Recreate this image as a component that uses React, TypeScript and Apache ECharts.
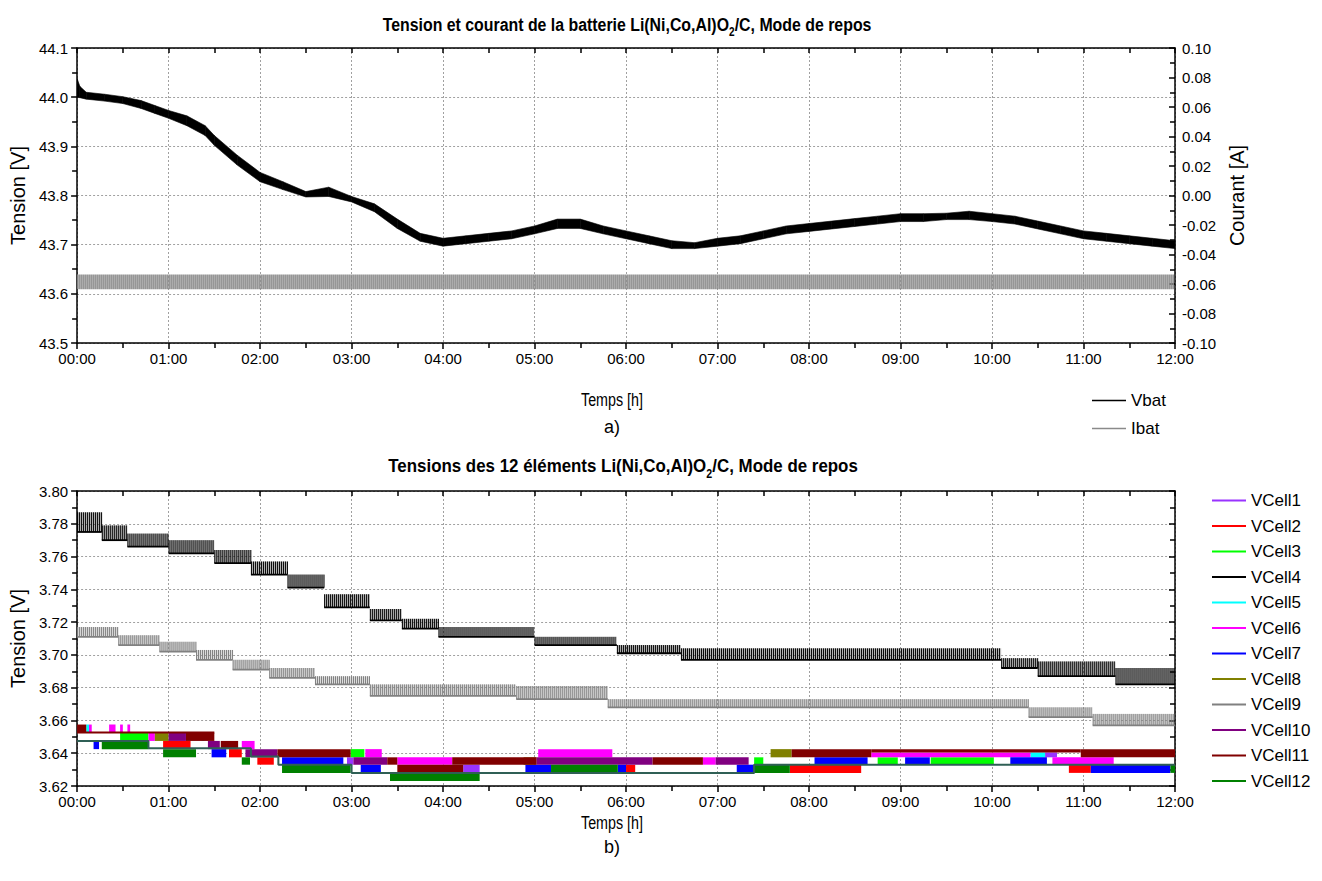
import React, { useEffect, useRef } from 'react';
import * as echarts from 'echarts';

const FONT = '"Liberation Sans", Arial, Helvetica, sans-serif';

// ---------- tick labels ----------
const hourLabels = ['00:00', '01:00', '02:00', '03:00', '04:00', '05:00', '06:00', '07:00', '08:00', '09:00', '10:00', '11:00', '12:00'];

// ---------- (a) battery voltage envelope, Vbat ----------
const vbatTime = [0, 0.03, 0.1, 0.3, 0.5, 0.7, 0.85, 1.0, 1.2, 1.4, 1.5, 1.75, 2.0, 2.25, 2.5, 2.75, 3.0, 3.25, 3.5, 3.75, 4.0, 4.25, 4.5, 4.75, 5.0, 5.25, 5.5, 5.75, 6.0, 6.25, 6.5, 6.75, 7.0, 7.25, 7.5, 7.75, 8.0, 8.25, 8.5, 8.75, 9.0, 9.25, 9.5, 9.75, 10.0, 10.25, 10.5, 10.75, 11.0, 11.25, 11.5, 11.75, 12.0];
const vbatLow = [44.0, 43.999, 43.996, 43.992, 43.987, 43.977, 43.967, 43.957, 43.942, 43.922, 43.902, 43.862, 43.828, 43.812, 43.797, 43.798, 43.787, 43.767, 43.733, 43.707, 43.697, 43.702, 43.707, 43.712, 43.722, 43.733, 43.733, 43.722, 43.712, 43.702, 43.692, 43.692, 43.697, 43.702, 43.712, 43.722, 43.727, 43.732, 43.737, 43.742, 43.747, 43.747, 43.751, 43.751, 43.747, 43.742, 43.732, 43.722, 43.712, 43.707, 43.702, 43.697, 43.692];
const vbatHigh = [44.038, 44.022, 44.01, 44.006, 44.001, 43.993, 43.983, 43.973, 43.962, 43.942, 43.922, 43.882, 43.847, 43.828, 43.808, 43.817, 43.798, 43.783, 43.752, 43.723, 43.713, 43.718, 43.723, 43.728, 43.738, 43.752, 43.752, 43.738, 43.728, 43.718, 43.708, 43.704, 43.713, 43.718, 43.728, 43.738, 43.743, 43.748, 43.753, 43.758, 43.763, 43.763, 43.764, 43.768, 43.763, 43.758, 43.748, 43.738, 43.728, 43.723, 43.718, 43.713, 43.708];

// ---------- (a) battery current envelope, Ibat ----------
const ibatTime = [0, 12];
const ibatLow = [-0.0635, -0.0635];
const ibatHigh = [-0.0535, -0.0535];

// ---------- (b) cell voltages: segments [tStart, tEnd, low, high] ----------
type Seg = [number, number, number, number];
const vcell1: Seg[] = [[2.95, 3.02, 3.633, 3.6375], [4.22, 4.4, 3.628, 3.633], [10.58, 10.71, 3.6375, 3.6405]];
const vcell2: Seg[] = [[0.94, 1.24, 3.6425, 3.6475], [1.66, 1.8, 3.6375, 3.6425], [1.97, 2.15, 3.633, 3.6375], [6.0, 6.1, 3.628, 3.633], [7.79, 8.57, 3.628, 3.633], [10.84, 11.08, 3.628, 3.633]];
const vcell3: Seg[] = [[0.47, 0.78, 3.6475, 3.6525], [2.99, 3.14, 3.6375, 3.6425], [7.4, 7.5, 3.633, 3.6375], [8.75, 8.97, 3.633, 3.6375], [9.33, 10.02, 3.633, 3.6375]];
const vcell4: Seg[] = [[0, 0.27, 3.775, 3.787], [0.27, 0.55, 3.77, 3.779], [0.55, 1.0, 3.766, 3.774], [1.0, 1.5, 3.762, 3.77], [1.5, 1.9, 3.756, 3.764], [1.9, 2.3, 3.749, 3.757], [2.3, 2.7, 3.741, 3.749], [2.7, 3.2, 3.729, 3.737], [3.2, 3.55, 3.721, 3.728], [3.55, 3.95, 3.716, 3.722], [3.95, 5.0, 3.711, 3.717], [5.0, 5.9, 3.706, 3.711], [5.9, 6.6, 3.701, 3.706], [6.6, 10.1, 3.697, 3.704], [10.1, 10.5, 3.692, 3.698], [10.5, 11.35, 3.687, 3.696], [11.35, 12, 3.682, 3.692]];
const vcell5: Seg[] = [[0.1, 0.13, 3.6525, 3.6575], [1.36, 1.39, 3.6475, 3.6525], [10.42, 10.58, 3.6375, 3.6405]];
const vcell6: Seg[] = [[0.13, 0.16, 3.6525, 3.6575], [0.35, 0.42, 3.6525, 3.6575], [0.47, 0.5, 3.6525, 3.6575], [0.55, 0.58, 3.6525, 3.6575], [0.78, 0.85, 3.6475, 3.6525], [1.8, 1.94, 3.6425, 3.6475], [3.15, 3.33, 3.6375, 3.6425], [3.5, 4.1, 3.633, 3.6375], [5.04, 5.85, 3.6375, 3.6425], [6.84, 6.98, 3.633, 3.6375], [8.68, 10.42, 3.6375, 3.6405], [10.66, 11.33, 3.633, 3.6375]];
const vcell7: Seg[] = [[0.18, 0.24, 3.6425, 3.6475], [1.47, 1.63, 3.6375, 3.6425], [2.24, 2.91, 3.633, 3.6375], [3.1, 3.32, 3.628, 3.633], [4.9, 5.18, 3.628, 3.633], [5.91, 6.0, 3.628, 3.633], [7.21, 7.39, 3.628, 3.633], [8.06, 8.64, 3.633, 3.6375], [9.05, 9.32, 3.633, 3.6375], [10.2, 10.6, 3.633, 3.6375], [11.08, 11.95, 3.628, 3.633]];
const vcell8: Seg[] = [[0.85, 1.0, 3.6475, 3.6525], [4.88, 5.02, 3.633, 3.6375], [7.58, 7.81, 3.6375, 3.6425]];
const vcell9: Seg[] = [[0, 0.45, 3.711, 3.717], [0.45, 0.9, 3.706, 3.712], [0.9, 1.3, 3.702, 3.708], [1.3, 1.7, 3.697, 3.703], [1.7, 2.1, 3.691, 3.697], [2.1, 2.6, 3.686, 3.692], [2.6, 3.2, 3.682, 3.687], [3.2, 4.8, 3.675, 3.682], [4.8, 5.8, 3.673, 3.681], [5.8, 10.4, 3.668, 3.673], [10.4, 11.1, 3.662, 3.668], [11.1, 12, 3.657, 3.664]];
const vcell10: Seg[] = [[1.0, 1.19, 3.6475, 3.6525], [1.43, 1.56, 3.6425, 3.6475], [1.84, 2.19, 3.6375, 3.6425], [3.02, 3.39, 3.633, 3.6375], [5.02, 6.29, 3.633, 3.6375], [6.98, 7.34, 3.633, 3.6375]];
const vcell11: Seg[] = [[0, 0.1, 3.6525, 3.6575], [0, 1.5, 3.652, 3.6532], [1.19, 1.5, 3.6475, 3.6525], [1.57, 1.76, 3.6425, 3.6475], [2.19, 2.99, 3.6375, 3.6425], [3.39, 3.5, 3.633, 3.6375], [4.1, 5.02, 3.633, 3.6375], [3.5, 4.22, 3.628, 3.633], [6.29, 6.84, 3.633, 3.6375], [7.81, 8.68, 3.6375, 3.6425], [8.68, 10.97, 3.6405, 3.6425], [10.97, 12, 3.6375, 3.6425]];
const vcell12: Seg[] = [[0.27, 0.78, 3.6425, 3.6475], [0.94, 1.3, 3.6375, 3.6425], [1.8, 1.89, 3.633, 3.6375], [2.24, 2.99, 3.628, 3.633], [3.42, 4.4, 3.623, 3.628], [5.18, 5.91, 3.628, 3.633], [7.39, 7.79, 3.628, 3.633], [11.95, 12, 3.628, 3.633]];
// baseline trace seen under the cell blocks: [time, voltage]
const cellBaseline: [number, number][] = [[0, 3.6475], [0.78, 3.643], [1.9, 3.638], [2.2, 3.633], [3.0, 3.628], [7.4, 3.633], [12, 3.633]];

const cellNames = ['VCell1', 'VCell2', 'VCell3', 'VCell4', 'VCell5', 'VCell6', 'VCell7', 'VCell8', 'VCell9', 'VCell10', 'VCell11', 'VCell12'];
const cellColors = ['#9933ff', '#ff0000', '#00ff00', '#000000', '#00ffff', '#ff00ff', '#0000ff', '#808000', '#808080', '#800080', '#800000', '#008000'];
const cellData = [vcell1, vcell2, vcell3, vcell4, vcell5, vcell6, vcell7, vcell8, vcell9, vcell10, vcell11, vcell12];

const title1A = 'Tension et courant de la batterie Li(Ni,Co,Al)O';
const title2A = 'Tensions des 12 éléments Li(Ni,Co,Al)O';
const titleSub = '2';
const titleB = '/C, Mode de repos';

let measureCtx: CanvasRenderingContext2D | null = null;
function textWidth(text: string, font: string) {
  if (!measureCtx) measureCtx = document.createElement('canvas').getContext('2d');
  if (!measureCtx) return text.length * 8;
  measureCtx.font = font;
  return measureCtx.measureText(text).width;
}

// filled envelope band (solid) or hatched band (hatch > 0: spacing of vertical strokes in px)
function bandSeries(name: string, xIdx: number, yIdx: number, T: number[], LO: number[], HI: number[], color: string, hatch: number, strokeW: number) {
  return {
    type: 'custom',
    name,
    xAxisIndex: xIdx,
    yAxisIndex: yIdx,
    itemStyle: { color },
    clip: true,
    data: T.map((t, i) => [t, LO[i], HI[i]]),
    encode: { x: 0, y: [1, 2] },
    renderItem: (params: any, api: any) => {
      const i = params.dataIndex;
      if (i >= T.length - 1) return null;
      const h0 = api.coord([T[i], HI[i]]);
      const h1 = api.coord([T[i + 1], HI[i + 1]]);
      const l1 = api.coord([T[i + 1], LO[i + 1]]);
      const l0 = api.coord([T[i], LO[i]]);
      if (!hatch) {
        return { type: 'polygon', shape: { points: [h0, h1, l1, l0] }, style: { fill: color, stroke: color, lineWidth: 0.6 } };
      }
      const children: any[] = [];
      const span = h1[0] - h0[0];
      for (let x = h0[0]; x <= h1[0]; x += hatch) {
        const f = span > 0 ? (x - h0[0]) / span : 0;
        const yt = h0[1] + (h1[1] - h0[1]) * f;
        const yb = l0[1] + (l1[1] - l0[1]) * f;
        children.push({ type: 'line', shape: { x1: x, y1: yt, x2: x, y2: yb }, style: { stroke: color, lineWidth: strokeW } });
      }
      return { type: 'group', children };
    },
  };
}

function segSeries(name: string, segs: Seg[], color: string, comb: boolean) {
  return {
    type: 'custom',
    name,
    xAxisIndex: 2,
    yAxisIndex: 2,
    itemStyle: { color },
    clip: true,
    data: segs,
    encode: { x: [0, 1], y: [2, 3] },
    renderItem: (params: any, api: any) => {
      const a = api.coord([api.value(0), api.value(3)]);
      const b = api.coord([api.value(1), api.value(2)]);
      const w = Math.max(b[0] - a[0], 1);
      const h = Math.max(b[1] - a[1], 1);
      if (!comb) {
        return { type: 'rect', shape: { x: a[0], y: a[1], width: w, height: h }, style: { fill: color } };
      }
      const children: any[] = [
        { type: 'rect', shape: { x: a[0], y: a[1], width: w, height: h }, style: { fill: color, opacity: 0.25 } },
        { type: 'line', shape: { x1: a[0], y1: b[1], x2: b[0], y2: b[1] }, style: { stroke: color, lineWidth: 1.8 } },
      ];
      for (let x = a[0] + 0.5; x <= b[0]; x += 2) {
        children.push({ type: 'line', shape: { x1: x, y1: a[1], x2: x, y2: b[1] }, style: { stroke: color, lineWidth: 1 } });
      }
      return { type: 'group', children };
    },
  };
}

const axisLineStyle = { color: '#000', width: 1.5 };
const gridLineStyle = { color: '#a0a0a0', width: 1, type: [2, 2] as any };
const tickLabel = { color: '#000', fontSize: 15, fontFamily: FONT };
const nameStyle = { fontSize: 20, color: '#000', fontFamily: FONT };

function timeAxis(gridIndex: number, top: boolean) {
  return {
    type: 'value',
    gridIndex,
    position: top ? 'top' : 'bottom',
    min: 0,
    max: 12,
    interval: 1,
    axisLine: { show: true, onZero: false, lineStyle: axisLineStyle },
    axisTick: { show: true, inside: top, length: top ? 5 : 6, lineStyle: axisLineStyle },
    minorTick: { show: true, splitNumber: 2, length: 5, lineStyle: axisLineStyle },
    axisLabel: top
      ? { show: false }
      : { ...tickLabel, margin: 8, formatter: (v: number) => hourLabels[Math.round(v)] },
    splitLine: { show: !top, lineStyle: gridLineStyle },
  };
}

function fmt(v: number, d: number) {
  return (Math.abs(v) < 1e-9 ? 0 : v).toFixed(d);
}

function titleGraphic(x: number, y: number, partA: string, targetWidth: number) {
  const big = 19;
  const small = 12;
  const natural =
    textWidth(partA, `bold ${big}px ${FONT}`) +
    textWidth(titleSub, `bold ${small}px ${FONT}`) +
    textWidth(titleB, `bold ${big}px ${FONT}`);
  return {
    type: 'text',
    x,
    y,
    scaleX: targetWidth / natural,
    style: {
      text: `{a|${partA}}{s|${titleSub}}{a|${titleB}}`,
      align: 'center',
      verticalAlign: 'middle',
      rich: {
        a: { fontSize: big, fontWeight: 'bold', fontFamily: FONT, fill: '#000', lineHeight: 28, verticalAlign: 'middle' },
        s: { fontSize: small, fontWeight: 'bold', fontFamily: FONT, fill: '#000', lineHeight: 28, verticalAlign: 'bottom' },
      },
    },
  };
}

function plainGraphic(x: number, y: number, text: string, size: number, targetWidth?: number) {
  const natural = textWidth(text, `${size}px ${FONT}`);
  return {
    type: 'text',
    x,
    y,
    scaleX: targetWidth ? targetWidth / natural : 1,
    style: { text, fontSize: size, fontFamily: FONT, fill: '#000', align: 'center', verticalAlign: 'middle' },
  };
}

function buildOption(): any {
  return {
    animation: false,
    backgroundColor: '#ffffff',
    textStyle: { fontFamily: FONT },
    grid: [
      { left: 72, top: 48, width: 1103, height: 295, containLabel: false },
      { left: 72, top: 491, width: 1103, height: 295, containLabel: false },
    ],
    xAxis: [timeAxis(0, false), timeAxis(0, true), timeAxis(1, false), timeAxis(1, true)],
    yAxis: [
      {
        type: 'value', gridIndex: 0, position: 'left', min: 43.5, max: 44.1, interval: 0.1,
        axisLine: { show: true, onZero: false, lineStyle: axisLineStyle },
        axisTick: { show: true, length: 6, lineStyle: axisLineStyle },
        minorTick: { show: true, splitNumber: 2, length: 5, lineStyle: axisLineStyle },
        axisLabel: { ...tickLabel, margin: 9, formatter: (v: number) => fmt(v, 1) },
        splitLine: { show: true, lineStyle: gridLineStyle },
        name: 'Tension [V]', nameLocation: 'middle', nameGap: 44, nameTextStyle: nameStyle,
      },
      {
        type: 'value', gridIndex: 0, position: 'right', min: -0.1, max: 0.1, interval: 0.02,
        axisLine: { show: true, onZero: false, lineStyle: axisLineStyle },
        axisTick: { show: true, inside: true, length: 6, lineStyle: axisLineStyle },
        minorTick: { show: true, splitNumber: 2, length: 5, lineStyle: axisLineStyle },
        axisLabel: { ...tickLabel, margin: 7, formatter: (v: number) => fmt(v, 2) },
        splitLine: { show: false },
        name: 'Courant [A]', nameLocation: 'middle', nameGap: 40, nameRotate: 90, nameTextStyle: nameStyle,
      },
      {
        type: 'value', gridIndex: 1, position: 'left', min: 3.62, max: 3.8, interval: 0.02,
        axisLine: { show: true, onZero: false, lineStyle: axisLineStyle },
        axisTick: { show: true, length: 6, lineStyle: axisLineStyle },
        minorTick: { show: true, splitNumber: 2, length: 5, lineStyle: axisLineStyle },
        axisLabel: { ...tickLabel, margin: 9, formatter: (v: number) => fmt(v, 2) },
        splitLine: { show: true, lineStyle: gridLineStyle },
        name: 'Tension [V]', nameLocation: 'middle', nameGap: 44, nameTextStyle: nameStyle,
      },
      {
        type: 'value', gridIndex: 1, position: 'right', min: 3.62, max: 3.8, interval: 0.02,
        axisLine: { show: true, onZero: false, lineStyle: axisLineStyle },
        axisTick: { show: true, inside: true, length: 6, lineStyle: axisLineStyle },
        minorTick: { show: true, splitNumber: 2, length: 5, lineStyle: axisLineStyle },
        axisLabel: { show: false },
        splitLine: { show: false },
      },
    ],
    legend: [
      {
        data: ['Vbat', 'Ibat'], orient: 'vertical', left: 1087, top: 387,
        icon: 'rect', itemWidth: 34, itemHeight: 1.5, itemGap: 11,
        textStyle: { fontSize: 17, color: '#000', fontFamily: FONT },
        selectedMode: false,
      },
      {
        data: cellNames, orient: 'vertical', left: 1207, top: 487,
        icon: 'rect', itemWidth: 34, itemHeight: 2, itemGap: 8.5,
        textStyle: { fontSize: 17, color: '#000', fontFamily: FONT },
        selectedMode: false,
      },
    ],
    graphic: [
      titleGraphic(627, 24, title1A, 489),
      titleGraphic(623, 466, title2A, 470),
      plainGraphic(612, 400, 'Temps [h]', 19, 62),
      plainGraphic(612, 427, 'a)', 18),
      plainGraphic(612, 823, 'Temps [h]', 19, 62),
      plainGraphic(612, 847, 'b)', 18),
    ],
    series: [
      bandSeries('Ibat', 0, 1, ibatTime, ibatLow, ibatHigh, '#8a8a8a', 2, 1.6),
      bandSeries('Vbat', 0, 0, vbatTime, vbatLow, vbatHigh, '#000000', 0, 0),
      {
        type: 'line', xAxisIndex: 2, yAxisIndex: 2, step: 'end', symbol: 'none',
        data: cellBaseline, lineStyle: { color: '#2f5f55', width: 2 }, itemStyle: { color: '#2f5f55' }, silent: true,
      },
      ...cellNames.map((n, i) => segSeries(n, cellData[i], cellColors[i], i === 3 || i === 8)),
    ],
  };
}

export default function App() {
  const ref = useRef<HTMLDivElement>(null);
  useEffect(() => {
    if (!ref.current) return;
    const chart = echarts.init(ref.current, null, { renderer: 'svg' });
    chart.setOption(buildOption());
    return () => chart.dispose();
  }, []);
  return (
    <div
      ref={ref}
      style={{ position: 'absolute', left: 0, top: 0, width: 1322, height: 881, background: '#fff' }}
    />
  );
}
